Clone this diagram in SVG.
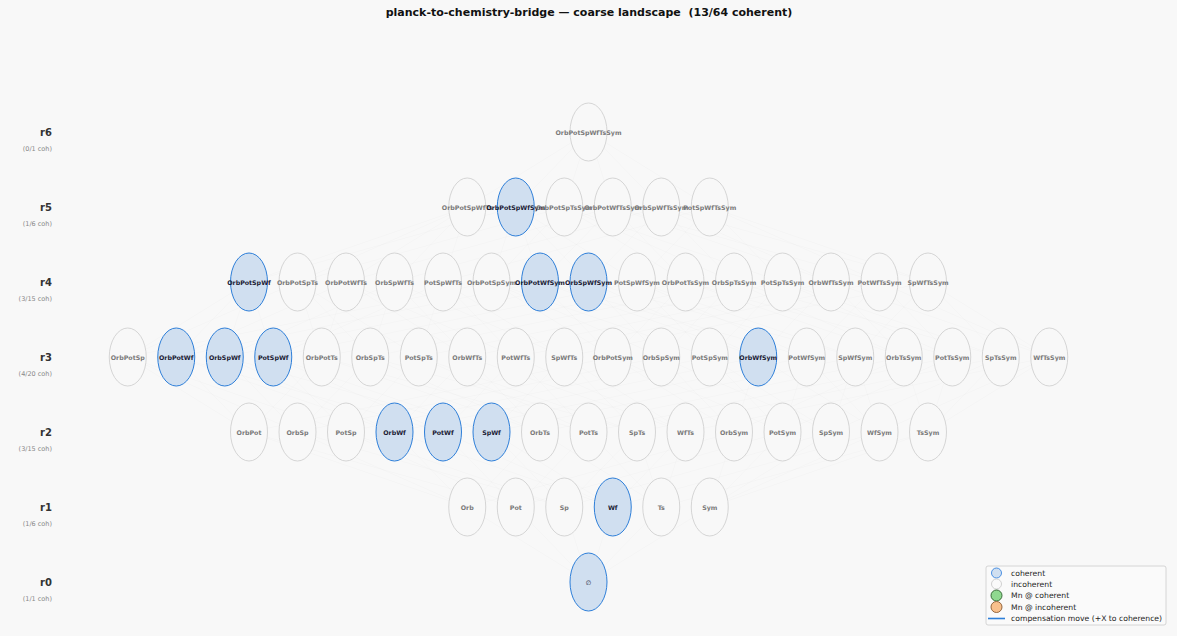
<svg xmlns="http://www.w3.org/2000/svg" width="1177" height="636" viewBox="0 0 1177 636">
<style>
.bg{fill:#f8f8f8}
.title{font-family:"DejaVu Sans",sans-serif;font-weight:bold;font-size:11px;fill:#111;text-anchor:middle}
.rl{font-family:"DejaVu Sans",sans-serif;font-weight:bold;font-size:10px;fill:#333;text-anchor:end}
.rs{font-family:"DejaVu Sans",sans-serif;font-size:6.5px;fill:#888;text-anchor:end}
.edge{fill:none;stroke:#000;stroke-opacity:0.028;stroke-width:0.6}
.inc ellipse{fill:#f8f8f8;stroke:#cccccc;stroke-width:0.8}
.coh ellipse{fill:#d0dff0;stroke:#2e7fd9;stroke-width:1}
.inc text,.coh text{font-family:"DejaVu Sans",sans-serif;font-weight:bold;font-size:6.3px;text-anchor:middle;dominant-baseline:central}
.inc text{fill:#7a7a7a}
.coh text{fill:#1a1a33}
.lg{font-family:"DejaVu Sans",sans-serif;font-size:7.7px;fill:#222;dominant-baseline:central}
</style>
<rect class="bg" x="0" y="0" width="1177" height="636"/>
<text class="title" x="589" y="16">planck-to-chemistry-bridge — coarse landscape &#160;(13/64 coherent)</text>

<g id="row-labels">
<text class="rl" x="52" y="136">r6</text><text class="rs" x="52" y="150.5">(0/1 coh)</text>
<text class="rl" x="52" y="211">r5</text><text class="rs" x="52" y="225.5">(1/6 coh)</text>
<text class="rl" x="52" y="286">r4</text><text class="rs" x="52" y="300.5">(3/15 coh)</text>
<text class="rl" x="52" y="361">r3</text><text class="rs" x="52" y="375.5">(4/20 coh)</text>
<text class="rl" x="52" y="436">r2</text><text class="rs" x="52" y="450.5">(3/15 coh)</text>
<text class="rl" x="52" y="511">r1</text><text class="rs" x="52" y="525.5">(1/6 coh)</text>
<text class="rl" x="52" y="586">r0</text><text class="rs" x="52" y="600.5">(1/1 coh)</text>
</g>

<g id="connectors">
<path class="edge" d="M588.5 582L467.25 507M588.5 582L515.75 507M588.5 582L564.25 507M588.5 582L612.75 507M588.5 582L661.25 507M588.5 582L709.75 507"/>
<path class="edge" d="M249 432L467.25 507M249 432L515.75 507M297.5 432L467.25 507M297.5 432L564.25 507M346 432L515.75 507M346 432L564.25 507M394.5 432L467.25 507M394.5 432L612.75 507M443 432L515.75 507M443 432L612.75 507M491.5 432L564.25 507M491.5 432L612.75 507M540 432L467.25 507M540 432L661.25 507M588.5 432L515.75 507M588.5 432L661.25 507M637 432L564.25 507M637 432L661.25 507M685.5 432L612.75 507M685.5 432L661.25 507M734 432L467.25 507M734 432L709.75 507M782.5 432L515.75 507M782.5 432L709.75 507M831 432L564.25 507M831 432L709.75 507M879.5 432L612.75 507M879.5 432L709.75 507M928 432L661.25 507M928 432L709.75 507"/>
<path class="edge" d="M127.75 357L249 432M127.75 357L297.5 432M127.75 357L346 432M176.25 357L249 432M176.25 357L394.5 432M176.25 357L443 432M224.75 357L297.5 432M224.75 357L394.5 432M224.75 357L491.5 432M273.25 357L346 432M273.25 357L443 432M273.25 357L491.5 432M321.75 357L249 432M321.75 357L540 432M321.75 357L588.5 432M370.25 357L297.5 432M370.25 357L540 432M370.25 357L637 432M418.75 357L346 432M418.75 357L588.5 432M418.75 357L637 432M467.25 357L394.5 432M467.25 357L540 432M467.25 357L685.5 432M515.75 357L443 432M515.75 357L588.5 432M515.75 357L685.5 432M564.25 357L491.5 432M564.25 357L637 432M564.25 357L685.5 432M612.75 357L249 432M612.75 357L734 432M612.75 357L782.5 432M661.25 357L297.5 432M661.25 357L734 432M661.25 357L831 432M709.75 357L346 432M709.75 357L782.5 432M709.75 357L831 432M758.25 357L394.5 432M758.25 357L734 432M758.25 357L879.5 432M806.75 357L443 432M806.75 357L782.5 432M806.75 357L879.5 432M855.25 357L491.5 432M855.25 357L831 432M855.25 357L879.5 432M903.75 357L540 432M903.75 357L734 432M903.75 357L928 432M952.25 357L588.5 432M952.25 357L782.5 432M952.25 357L928 432M1000.75 357L637 432M1000.75 357L831 432M1000.75 357L928 432M1049.25 357L685.5 432M1049.25 357L879.5 432M1049.25 357L928 432"/>
<path class="edge" d="M249 282L127.75 357M249 282L176.25 357M249 282L224.75 357M249 282L273.25 357M297.5 282L127.75 357M297.5 282L321.75 357M297.5 282L370.25 357M297.5 282L418.75 357M346 282L176.25 357M346 282L321.75 357M346 282L467.25 357M346 282L515.75 357M394.5 282L224.75 357M394.5 282L370.25 357M394.5 282L467.25 357M394.5 282L564.25 357M443 282L273.25 357M443 282L418.75 357M443 282L515.75 357M443 282L564.25 357M491.5 282L127.75 357M491.5 282L612.75 357M491.5 282L661.25 357M491.5 282L709.75 357M540 282L176.25 357M540 282L612.75 357M540 282L758.25 357M540 282L806.75 357M588.5 282L224.75 357M588.5 282L661.25 357M588.5 282L758.25 357M588.5 282L855.25 357M637 282L273.25 357M637 282L709.75 357M637 282L806.75 357M637 282L855.25 357M685.5 282L321.75 357M685.5 282L612.75 357M685.5 282L903.75 357M685.5 282L952.25 357M734 282L370.25 357M734 282L661.25 357M734 282L903.75 357M734 282L1000.75 357M782.5 282L418.75 357M782.5 282L709.75 357M782.5 282L952.25 357M782.5 282L1000.75 357M831 282L467.25 357M831 282L758.25 357M831 282L903.75 357M831 282L1049.25 357M879.5 282L515.75 357M879.5 282L806.75 357M879.5 282L952.25 357M879.5 282L1049.25 357M928 282L564.25 357M928 282L855.25 357M928 282L1000.75 357M928 282L1049.25 357"/>
<path class="edge" d="M467.25 207L249 282M467.25 207L297.5 282M467.25 207L346 282M467.25 207L394.5 282M467.25 207L443 282M515.75 207L249 282M515.75 207L491.5 282M515.75 207L540 282M515.75 207L588.5 282M515.75 207L637 282M564.25 207L297.5 282M564.25 207L491.5 282M564.25 207L685.5 282M564.25 207L734 282M564.25 207L782.5 282M612.75 207L346 282M612.75 207L540 282M612.75 207L685.5 282M612.75 207L831 282M612.75 207L879.5 282M661.25 207L394.5 282M661.25 207L588.5 282M661.25 207L734 282M661.25 207L831 282M661.25 207L928 282M709.75 207L443 282M709.75 207L637 282M709.75 207L782.5 282M709.75 207L879.5 282M709.75 207L928 282"/>
<path class="edge" d="M588.5 132L467.25 207M588.5 132L515.75 207M588.5 132L564.25 207M588.5 132L612.75 207M588.5 132L661.25 207M588.5 132L709.75 207"/>
</g>

<g id="r6">
<g id="n-OrbPotSpWfTsSym" class="inc"><ellipse cx="588.5" cy="132" rx="18.5" ry="29"/><text x="588.5" y="132">OrbPotSpWfTsSym</text></g>
</g>

<g id="r5">
<g id="n-OrbPotSpWfTs" class="inc"><ellipse cx="467.25" cy="207" rx="18.5" ry="29"/><text x="467.25" y="207">OrbPotSpWfTs</text></g>
<g id="n-OrbPotSpWfSym" class="coh"><ellipse cx="515.75" cy="207" rx="18.5" ry="29"/><text x="515.75" y="207">OrbPotSpWfSym</text></g>
<g id="n-OrbPotSpTsSym" class="inc"><ellipse cx="564.25" cy="207" rx="18.5" ry="29"/><text x="564.25" y="207">OrbPotSpTsSym</text></g>
<g id="n-OrbPotWfTsSym" class="inc"><ellipse cx="612.75" cy="207" rx="18.5" ry="29"/><text x="612.75" y="207">OrbPotWfTsSym</text></g>
<g id="n-OrbSpWfTsSym" class="inc"><ellipse cx="661.25" cy="207" rx="18.5" ry="29"/><text x="661.25" y="207">OrbSpWfTsSym</text></g>
<g id="n-PotSpWfTsSym" class="inc"><ellipse cx="709.75" cy="207" rx="18.5" ry="29"/><text x="709.75" y="207">PotSpWfTsSym</text></g>
</g>

<g id="r4">
<g id="n-OrbPotSpWf" class="coh"><ellipse cx="249" cy="282" rx="18.5" ry="29"/><text x="249" y="282">OrbPotSpWf</text></g>
<g id="n-OrbPotSpTs" class="inc"><ellipse cx="297.5" cy="282" rx="18.5" ry="29"/><text x="297.5" y="282">OrbPotSpTs</text></g>
<g id="n-OrbPotWfTs" class="inc"><ellipse cx="346" cy="282" rx="18.5" ry="29"/><text x="346" y="282">OrbPotWfTs</text></g>
<g id="n-OrbSpWfTs" class="inc"><ellipse cx="394.5" cy="282" rx="18.5" ry="29"/><text x="394.5" y="282">OrbSpWfTs</text></g>
<g id="n-PotSpWfTs" class="inc"><ellipse cx="443" cy="282" rx="18.5" ry="29"/><text x="443" y="282">PotSpWfTs</text></g>
<g id="n-OrbPotSpSym" class="inc"><ellipse cx="491.5" cy="282" rx="18.5" ry="29"/><text x="491.5" y="282">OrbPotSpSym</text></g>
<g id="n-OrbPotWfSym" class="coh"><ellipse cx="540" cy="282" rx="18.5" ry="29"/><text x="540" y="282">OrbPotWfSym</text></g>
<g id="n-OrbSpWfSym" class="coh"><ellipse cx="588.5" cy="282" rx="18.5" ry="29"/><text x="588.5" y="282">OrbSpWfSym</text></g>
<g id="n-PotSpWfSym" class="inc"><ellipse cx="637" cy="282" rx="18.5" ry="29"/><text x="637" y="282">PotSpWfSym</text></g>
<g id="n-OrbPotTsSym" class="inc"><ellipse cx="685.5" cy="282" rx="18.5" ry="29"/><text x="685.5" y="282">OrbPotTsSym</text></g>
<g id="n-OrbSpTsSym" class="inc"><ellipse cx="734" cy="282" rx="18.5" ry="29"/><text x="734" y="282">OrbSpTsSym</text></g>
<g id="n-PotSpTsSym" class="inc"><ellipse cx="782.5" cy="282" rx="18.5" ry="29"/><text x="782.5" y="282">PotSpTsSym</text></g>
<g id="n-OrbWfTsSym" class="inc"><ellipse cx="831" cy="282" rx="18.5" ry="29"/><text x="831" y="282">OrbWfTsSym</text></g>
<g id="n-PotWfTsSym" class="inc"><ellipse cx="879.5" cy="282" rx="18.5" ry="29"/><text x="879.5" y="282">PotWfTsSym</text></g>
<g id="n-SpWfTsSym" class="inc"><ellipse cx="928" cy="282" rx="18.5" ry="29"/><text x="928" y="282">SpWfTsSym</text></g>
</g>

<g id="r3">
<g id="n-OrbPotSp" class="inc"><ellipse cx="127.75" cy="357" rx="18.5" ry="29"/><text x="127.75" y="357">OrbPotSp</text></g>
<g id="n-OrbPotWf" class="coh"><ellipse cx="176.25" cy="357" rx="18.5" ry="29"/><text x="176.25" y="357">OrbPotWf</text></g>
<g id="n-OrbSpWf" class="coh"><ellipse cx="224.75" cy="357" rx="18.5" ry="29"/><text x="224.75" y="357">OrbSpWf</text></g>
<g id="n-PotSpWf" class="coh"><ellipse cx="273.25" cy="357" rx="18.5" ry="29"/><text x="273.25" y="357">PotSpWf</text></g>
<g id="n-OrbPotTs" class="inc"><ellipse cx="321.75" cy="357" rx="18.5" ry="29"/><text x="321.75" y="357">OrbPotTs</text></g>
<g id="n-OrbSpTs" class="inc"><ellipse cx="370.25" cy="357" rx="18.5" ry="29"/><text x="370.25" y="357">OrbSpTs</text></g>
<g id="n-PotSpTs" class="inc"><ellipse cx="418.75" cy="357" rx="18.5" ry="29"/><text x="418.75" y="357">PotSpTs</text></g>
<g id="n-OrbWfTs" class="inc"><ellipse cx="467.25" cy="357" rx="18.5" ry="29"/><text x="467.25" y="357">OrbWfTs</text></g>
<g id="n-PotWfTs" class="inc"><ellipse cx="515.75" cy="357" rx="18.5" ry="29"/><text x="515.75" y="357">PotWfTs</text></g>
<g id="n-SpWfTs" class="inc"><ellipse cx="564.25" cy="357" rx="18.5" ry="29"/><text x="564.25" y="357">SpWfTs</text></g>
<g id="n-OrbPotSym" class="inc"><ellipse cx="612.75" cy="357" rx="18.5" ry="29"/><text x="612.75" y="357">OrbPotSym</text></g>
<g id="n-OrbSpSym" class="inc"><ellipse cx="661.25" cy="357" rx="18.5" ry="29"/><text x="661.25" y="357">OrbSpSym</text></g>
<g id="n-PotSpSym" class="inc"><ellipse cx="709.75" cy="357" rx="18.5" ry="29"/><text x="709.75" y="357">PotSpSym</text></g>
<g id="n-OrbWfSym" class="coh"><ellipse cx="758.25" cy="357" rx="18.5" ry="29"/><text x="758.25" y="357">OrbWfSym</text></g>
<g id="n-PotWfSym" class="inc"><ellipse cx="806.75" cy="357" rx="18.5" ry="29"/><text x="806.75" y="357">PotWfSym</text></g>
<g id="n-SpWfSym" class="inc"><ellipse cx="855.25" cy="357" rx="18.5" ry="29"/><text x="855.25" y="357">SpWfSym</text></g>
<g id="n-OrbTsSym" class="inc"><ellipse cx="903.75" cy="357" rx="18.5" ry="29"/><text x="903.75" y="357">OrbTsSym</text></g>
<g id="n-PotTsSym" class="inc"><ellipse cx="952.25" cy="357" rx="18.5" ry="29"/><text x="952.25" y="357">PotTsSym</text></g>
<g id="n-SpTsSym" class="inc"><ellipse cx="1000.75" cy="357" rx="18.5" ry="29"/><text x="1000.75" y="357">SpTsSym</text></g>
<g id="n-WfTsSym" class="inc"><ellipse cx="1049.25" cy="357" rx="18.5" ry="29"/><text x="1049.25" y="357">WfTsSym</text></g>
</g>

<g id="r2">
<g id="n-OrbPot" class="inc"><ellipse cx="249" cy="432" rx="18.5" ry="29"/><text x="249" y="432">OrbPot</text></g>
<g id="n-OrbSp" class="inc"><ellipse cx="297.5" cy="432" rx="18.5" ry="29"/><text x="297.5" y="432">OrbSp</text></g>
<g id="n-PotSp" class="inc"><ellipse cx="346" cy="432" rx="18.5" ry="29"/><text x="346" y="432">PotSp</text></g>
<g id="n-OrbWf" class="coh"><ellipse cx="394.5" cy="432" rx="18.5" ry="29"/><text x="394.5" y="432">OrbWf</text></g>
<g id="n-PotWf" class="coh"><ellipse cx="443" cy="432" rx="18.5" ry="29"/><text x="443" y="432">PotWf</text></g>
<g id="n-SpWf" class="coh"><ellipse cx="491.5" cy="432" rx="18.5" ry="29"/><text x="491.5" y="432">SpWf</text></g>
<g id="n-OrbTs" class="inc"><ellipse cx="540" cy="432" rx="18.5" ry="29"/><text x="540" y="432">OrbTs</text></g>
<g id="n-PotTs" class="inc"><ellipse cx="588.5" cy="432" rx="18.5" ry="29"/><text x="588.5" y="432">PotTs</text></g>
<g id="n-SpTs" class="inc"><ellipse cx="637" cy="432" rx="18.5" ry="29"/><text x="637" y="432">SpTs</text></g>
<g id="n-WfTs" class="inc"><ellipse cx="685.5" cy="432" rx="18.5" ry="29"/><text x="685.5" y="432">WfTs</text></g>
<g id="n-OrbSym" class="inc"><ellipse cx="734" cy="432" rx="18.5" ry="29"/><text x="734" y="432">OrbSym</text></g>
<g id="n-PotSym" class="inc"><ellipse cx="782.5" cy="432" rx="18.5" ry="29"/><text x="782.5" y="432">PotSym</text></g>
<g id="n-SpSym" class="inc"><ellipse cx="831" cy="432" rx="18.5" ry="29"/><text x="831" y="432">SpSym</text></g>
<g id="n-WfSym" class="inc"><ellipse cx="879.5" cy="432" rx="18.5" ry="29"/><text x="879.5" y="432">WfSym</text></g>
<g id="n-TsSym" class="inc"><ellipse cx="928" cy="432" rx="18.5" ry="29"/><text x="928" y="432">TsSym</text></g>
</g>

<g id="r1">
<g id="n-Orb" class="inc"><ellipse cx="467.25" cy="507" rx="18.5" ry="29"/><text x="467.25" y="507">Orb</text></g>
<g id="n-Pot" class="inc"><ellipse cx="515.75" cy="507" rx="18.5" ry="29"/><text x="515.75" y="507">Pot</text></g>
<g id="n-Sp" class="inc"><ellipse cx="564.25" cy="507" rx="18.5" ry="29"/><text x="564.25" y="507">Sp</text></g>
<g id="n-Wf" class="coh"><ellipse cx="612.75" cy="507" rx="18.5" ry="29"/><text x="612.75" y="507">Wf</text></g>
<g id="n-Ts" class="inc"><ellipse cx="661.25" cy="507" rx="18.5" ry="29"/><text x="661.25" y="507">Ts</text></g>
<g id="n-Sym" class="inc"><ellipse cx="709.75" cy="507" rx="18.5" ry="29"/><text x="709.75" y="507">Sym</text></g>
</g>

<g id="r0">
<g id="n-empty" class="coh"><ellipse cx="588.5" cy="582" rx="18.5" ry="29"/><text x="588.5" y="582" style="font-weight:normal">∅</text></g>
</g>

<g id="legend">
<rect x="986" y="566" width="180" height="59" rx="2" fill="#fafafa" stroke="#cccccc" stroke-width="0.8"/>
<circle cx="996.5" cy="573" r="5" fill="#d0dff0" stroke="#3a86e0" stroke-width="0.9"/>
<text class="lg" x="1011" y="573">coherent</text>
<circle cx="996.5" cy="584" r="5" fill="#fafafa" stroke="#cccccc" stroke-width="0.9"/>
<text class="lg" x="1011" y="584">incoherent</text>
<circle cx="996.5" cy="595.5" r="5.5" fill="#8fd88f" stroke="#2b5d2b" stroke-width="0.9"/>
<text class="lg" x="1011" y="595.5">Mn @ coherent</text>
<circle cx="996.5" cy="607" r="5.5" fill="#f8c08c" stroke="#8a5a30" stroke-width="0.9"/>
<text class="lg" x="1011" y="607">Mn @ incoherent</text>
<line x1="988" y1="618.5" x2="1005" y2="618.5" stroke="#2e7fd9" stroke-width="1.6"/>
<text class="lg" x="1011" y="618.5">compensation move (+X to coherence)</text>
</g>
</svg>
